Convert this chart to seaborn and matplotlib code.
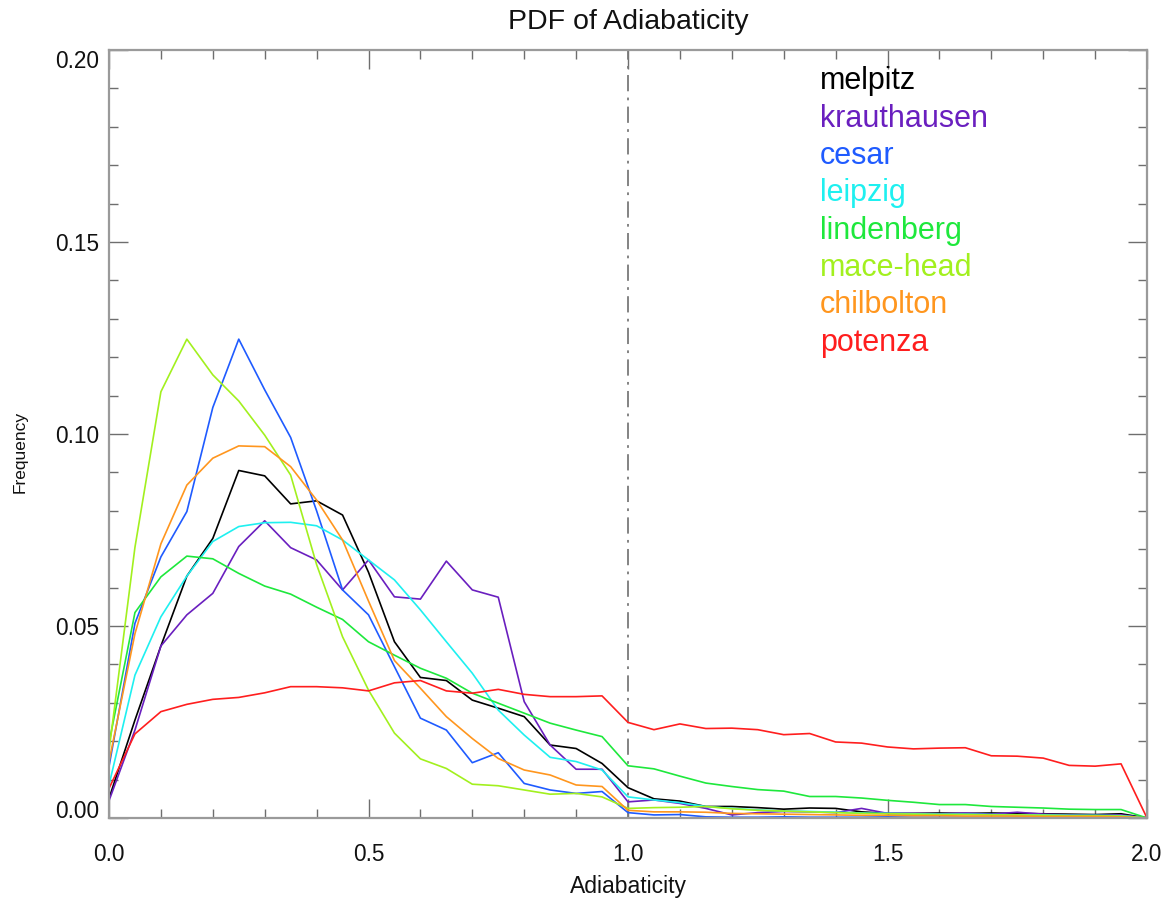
import numpy as np
import pandas as pd
import matplotlib
matplotlib.use("Agg")
import matplotlib.pyplot as plt
import seaborn as sns

# ---------------- data ----------------
adiabaticity = [round(0.05 * i, 2) for i in range(41)]

sites = ["melpitz", "krauthausen", "cesar", "leipzig",
         "lindenberg", "mace-head", "chilbolton", "potenza"]

melpitz = [0.0051, 0.0255, 0.0448, 0.0630, 0.0728, 0.0905, 0.0891, 0.0818, 0.0826, 0.0789,
           0.0640, 0.0459, 0.0366, 0.0358, 0.0307, 0.0286, 0.0264, 0.0190, 0.0181, 0.0142,
           0.0079, 0.0050, 0.0044, 0.0030, 0.0030, 0.0027, 0.0023, 0.0026, 0.0025, 0.0016,
           0.0012, 0.0012, 0.0013, 0.0012, 0.0013, 0.0012, 0.0011, 0.0010, 0.0009, 0.0011,
           0.0000]
krauthausen = [0.0045, 0.0229, 0.0448, 0.0529, 0.0585, 0.0707, 0.0774, 0.0704, 0.0672, 0.0594,
               0.0672, 0.0576, 0.0570, 0.0669, 0.0594, 0.0575, 0.0303, 0.0190, 0.0127, 0.0127,
               0.0042, 0.0047, 0.0038, 0.0025, 0.0008, 0.0014, 0.0017, 0.0016, 0.0014, 0.0025,
               0.0012, 0.0012, 0.0011, 0.0013, 0.0010, 0.0015, 0.0010, 0.0008, 0.0007, 0.0008,
               0.0000]
cesar = [0.0134, 0.0507, 0.0680, 0.0798, 0.1069, 0.1247, 0.1115, 0.0991, 0.0800, 0.0594,
         0.0529, 0.0394, 0.0260, 0.0229, 0.0144, 0.0170, 0.0090, 0.0073, 0.0064, 0.0069,
         0.0014, 0.0008, 0.0009, 0.0003, 0.0002, 0.0002, 0.0003, 0.0002, 0.0002, 0.0002,
         0.0003, 0.0002, 0.0002, 0.0002, 0.0001, 0.0002, 0.0001, 0.0001, 0.0001, 0.0001,
         0.0000]
leipzig = [0.0086, 0.0372, 0.0524, 0.0630, 0.0720, 0.0759, 0.0769, 0.0770, 0.0761, 0.0724,
           0.0672, 0.0620, 0.0542, 0.0459, 0.0377, 0.0281, 0.0216, 0.0158, 0.0147, 0.0125,
           0.0055, 0.0047, 0.0040, 0.0030, 0.0025, 0.0021, 0.0018, 0.0017, 0.0015, 0.0013,
           0.0012, 0.0011, 0.0010, 0.0010, 0.0009, 0.0008, 0.0008, 0.0007, 0.0007, 0.0006,
           0.0000]
lindenberg = [0.0195, 0.0535, 0.0628, 0.0682, 0.0675, 0.0637, 0.0604, 0.0583, 0.0549, 0.0517,
              0.0459, 0.0424, 0.0390, 0.0364, 0.0325, 0.0299, 0.0273, 0.0247, 0.0229, 0.0212,
              0.0136, 0.0128, 0.0109, 0.0091, 0.0082, 0.0074, 0.0070, 0.0056, 0.0056, 0.0052,
              0.0046, 0.0041, 0.0035, 0.0035, 0.0030, 0.0028, 0.0026, 0.0023, 0.0022, 0.0022,
              0.0000]
mace_head = [0.0175, 0.0705, 0.1110, 0.1247, 0.1154, 0.1086, 0.0997, 0.0893, 0.0660, 0.0472,
             0.0333, 0.0221, 0.0154, 0.0129, 0.0088, 0.0084, 0.0073, 0.0062, 0.0064, 0.0055,
             0.0025, 0.0027, 0.0028, 0.0030, 0.0024, 0.0020, 0.0018, 0.0016, 0.0014, 0.0012,
             0.0011, 0.0010, 0.0009, 0.0009, 0.0008, 0.0008, 0.0007, 0.0006, 0.0006, 0.0005,
             0.0000]
chilbolton = [0.0147, 0.0480, 0.0714, 0.0867, 0.0937, 0.0969, 0.0967, 0.0915, 0.0828, 0.0724,
              0.0565, 0.0410, 0.0338, 0.0264, 0.0207, 0.0155, 0.0125, 0.0112, 0.0086, 0.0082,
              0.0020, 0.0016, 0.0016, 0.0015, 0.0012, 0.0011, 0.0010, 0.0009, 0.0008, 0.0007,
              0.0007, 0.0006, 0.0006, 0.0005, 0.0005, 0.0005, 0.0004, 0.0004, 0.0004, 0.0003,
              0.0000]
potenza = [0.0077, 0.0219, 0.0277, 0.0296, 0.0309, 0.0314, 0.0326, 0.0342, 0.0342, 0.0339,
           0.0331, 0.0352, 0.0358, 0.0331, 0.0325, 0.0335, 0.0322, 0.0316, 0.0316, 0.0318,
           0.0249, 0.0230, 0.0245, 0.0233, 0.0234, 0.0230, 0.0217, 0.0220, 0.0198, 0.0195,
           0.0185, 0.0180, 0.0182, 0.0183, 0.0162, 0.0161, 0.0156, 0.0137, 0.0135, 0.0141,
           0.0000]

series = [melpitz, krauthausen, cesar, leipzig, lindenberg, mace_head, chilbolton, potenza]

colors = ["#000000", "#6a1fbf", "#1f5bff", "#1ef0f0",
          "#1ee83c", "#a2f01e", "#ff961e", "#ff1e1e"]

xticks = [0.0, 0.5, 1.0, 1.5, 2.0]
xtick_labels = ["0.0", "0.5", "1.0", "1.5", "2.0"]
yticks = [0.00, 0.05, 0.10, 0.15, 0.20]
ytick_labels = ["0.00", "0.05", "0.10", "0.15", "0.20"]

# ---------------- frame ----------------
rows = []
for name, vals in zip(sites, series):
    for x, v in zip(adiabaticity, vals):
        rows.append({"Adiabaticity": x, "Frequency": v, "site": name})
df = pd.DataFrame(rows)

sns.set_style("ticks")
plt.rcParams["font.family"] = ["Liberation Sans", "DejaVu Sans"]

fig = plt.figure(figsize=(11.65, 8.98), dpi=100)
ax = fig.add_axes([109 / 1165, 1 - 818 / 898, (1147 - 109) / 1165, (818 - 50) / 898])

palette = dict(zip(sites, colors))
sns.lineplot(data=df, x="Adiabaticity", y="Frequency", hue="site",
             hue_order=sites, palette=palette, sort=False, estimator=None,
             legend=False, linewidth=1.2, ax=ax)

ax.axvline(1.0, color="#7a7a7a", linewidth=1.3, linestyle=(0, (9, 3.5, 1.5, 3.5)), zorder=1)

ax.set_xlim(0, 2.0)
ax.set_ylim(0, 0.20)
ax.set_xticks(xticks)
ax.set_xticklabels(xtick_labels)
ax.set_xticks(np.arange(0, 2.0001, 0.1), minor=True)
ax.set_yticks(yticks)
ax.set_yticklabels(ytick_labels)
ax.set_yticks(np.arange(0, 0.20001, 0.01), minor=True)

ax.tick_params(which="both", direction="in", top=True, right=True,
               color="#6e6e6e", width=1.0, labelsize=16.3, labelcolor="#111111")
ax.tick_params(which="major", length=14)
ax.tick_params(which="minor", length=6.5)
ax.tick_params(axis="x", which="major", pad=18)
ax.tick_params(axis="y", which="major", pad=7)

for s in ax.spines.values():
    s.set_color("#9a9a9a")
    s.set_linewidth(1.6)
    s.set_visible(True)

# IDL-style nudging of end labels
ylabs = ax.get_yticklabels()
ylabs[0].set_va("baseline")
ylabs[-1].set_va("top")

ax.set_xlabel("Adiabaticity", fontsize=16.5, color="#111111")
ax.xaxis.set_label_coords(0.5, (818 - 887) / 768)
ax.xaxis.label.set_va("center")
ax.set_ylabel("Frequency", fontsize=12.5, color="#111111")
ax.yaxis.set_label_coords((20 - 109) / 1038, (818 - 452) / 768)
ax.yaxis.label.set_va("center")

fig.text((109 + 1147) / 2 / 1165, 1 - 22 / 898, "PDF of Adiabaticity",
         ha="center", va="center", fontsize=20.5, color="#111111")

# coloured site names (x in data units, y in axes fraction)
for k, (name, c) in enumerate(zip(sites, colors)):
    ax.text(1.37, (818 - 89.5) / 768 - k * 37.3 / 768, name, color=c,
            fontsize=22, transform=ax.get_xaxis_transform(), ha="left", va="baseline")

fig.savefig("out.png", dpi=100)
